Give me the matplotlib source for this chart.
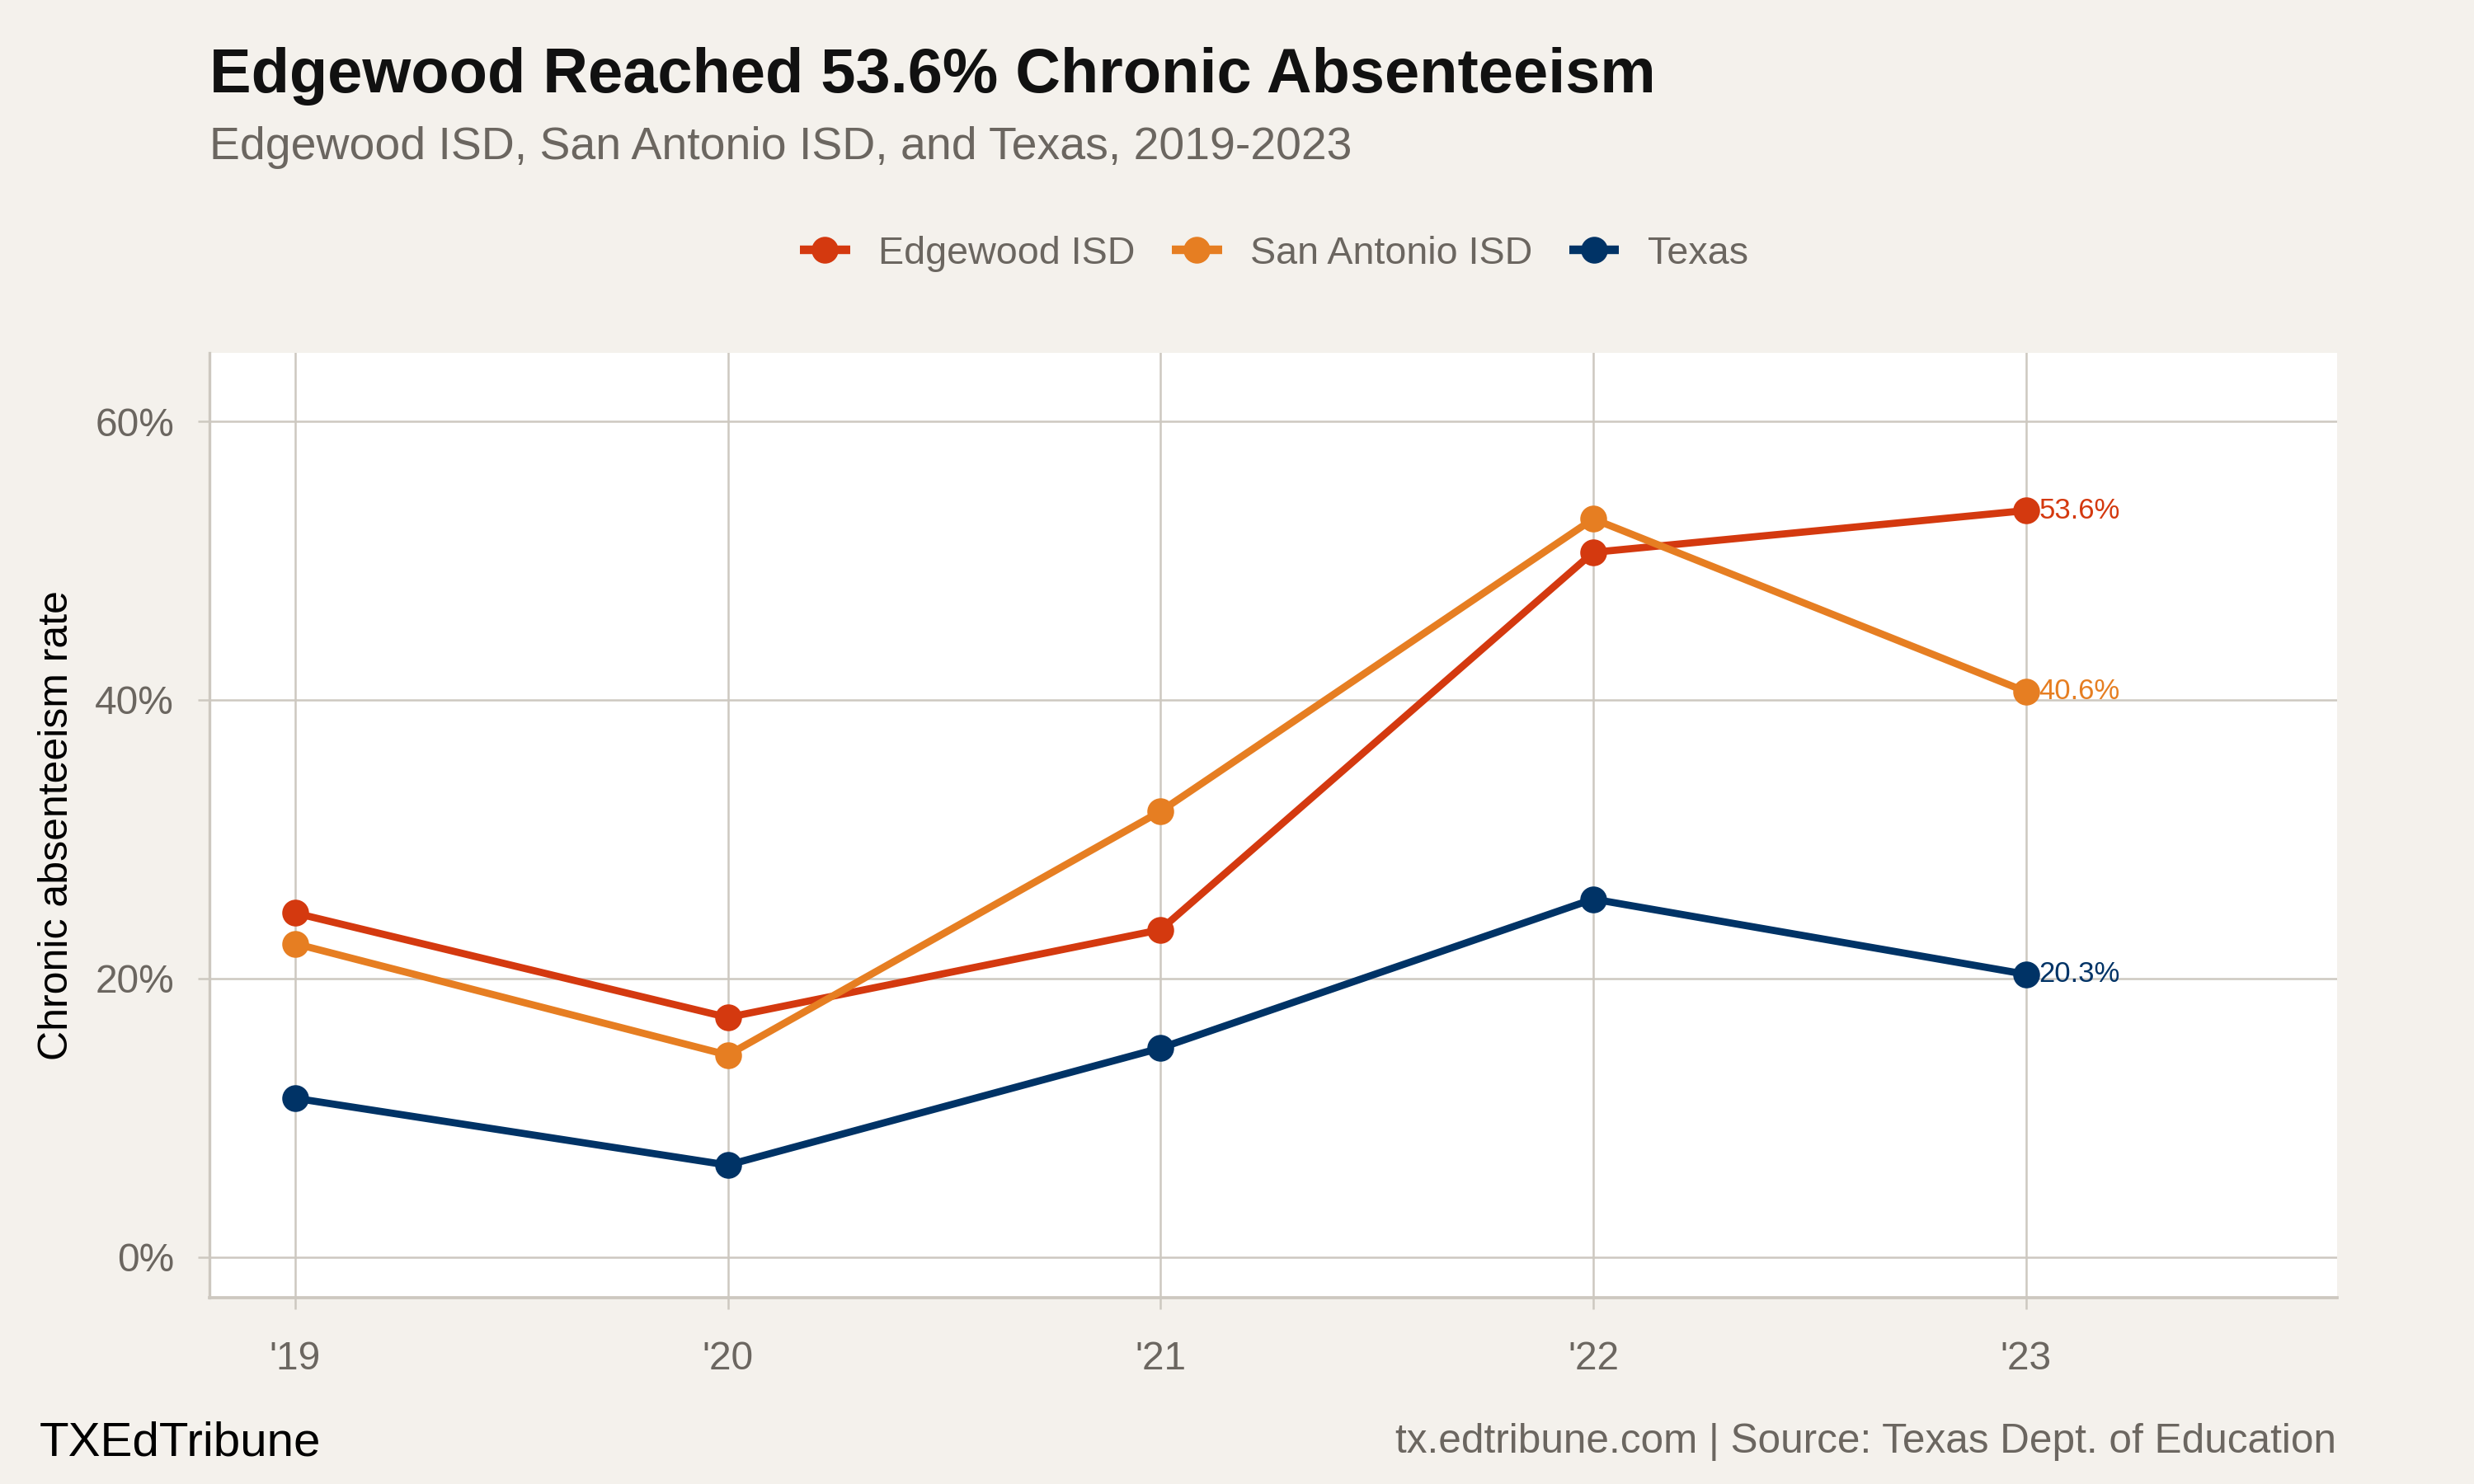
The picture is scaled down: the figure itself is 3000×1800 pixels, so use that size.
import numpy as np
import matplotlib
matplotlib.use("Agg")
import matplotlib.pyplot as plt
from matplotlib.ticker import FuncFormatter

plt.rcParams['font.family'] = ['Liberation Sans', 'DejaVu Sans']

years = [2019, 2020, 2021, 2022, 2023]
year_labels = ["'19", "'20", "'21", "'22", "'23"]
edgewood = [24.7, 17.2, 23.5, 50.6, 53.6]
san_antonio = [22.5, 14.5, 32.0, 53.0, 40.6]
texas = [11.4, 6.6, 15.0, 25.7, 20.3]
series_names = ["Edgewood ISD", "San Antonio ISD", "Texas"]
series_colors = ["#D4390F", "#E67E22", "#003366"]

bg = "#F4F1EC"
grid_col = "#CDC8C0"
gray_txt = "#6B6660"

fig = plt.figure(figsize=(10, 6), dpi=300, facecolor=bg)
ax = fig.add_axes([0.0848, 0.1254, 0.9445 - 0.0848, 0.762 - 0.1254])
ax.set_facecolor("white")

for name, vals, col in zip(series_names, [edgewood, san_antonio, texas], series_colors):
    ax.plot(years, vals, color=col, lw=2.1, marker="o", markersize=6.8,
            label=name, solid_capstyle="butt", zorder=3)
    ax.text(years[-1] + 0.03, vals[-1], f"{vals[-1]:.1f}%", color=col,
            fontsize=8.3, va="center", ha="left", zorder=4)

ax.set_xlim(2018.803, 2023.718)
ax.set_ylim(-2.94, 64.9)
ax.set_xticks(years)
ax.set_xticklabels(year_labels)
ax.set_yticks([0, 20, 40, 60])
ax.yaxis.set_major_formatter(FuncFormatter(lambda v, p: f"{v:.0f}%"))
ax.grid(True, color=grid_col, lw=0.6, zorder=0)
ax.set_axisbelow(True)

for s in ["top", "right"]:
    ax.spines[s].set_visible(False)
ax.spines["left"].set_color(grid_col)
ax.spines["left"].set_linewidth(0.8)
ax.spines["bottom"].set_color(grid_col)
ax.spines["bottom"].set_linewidth(0.9)
ax.tick_params(axis="both", colors=grid_col, length=3.4, width=0.6,
               labelcolor=gray_txt, labelsize=11.5, pad=7)
ax.tick_params(axis="x", pad=9)

ax.set_ylabel("Chronic absenteeism rate", fontsize=12, color="black")
ax.yaxis.set_label_coords(-0.063, 0.5)

fig.text(0.0848, 0.938, "Edgewood Reached 53.6% Chronic Absenteeism",
         fontsize=18.2, fontweight="bold", color="#111111", va="baseline")
fig.text(0.0848, 0.893, "Edgewood ISD, San Antonio ISD, and Texas, 2019-2023",
         fontsize=13.3, color=gray_txt, va="baseline")

handles, labels = ax.get_legend_handles_labels()
leg = fig.legend(handles, labels, loc="center", bbox_to_anchor=(0.515, 0.829),
                 ncol=3, frameon=False, fontsize=11.2, handlelength=1.3,
                 handletextpad=0.74, columnspacing=0.95, labelcolor=gray_txt)
for h in leg.legend_handles:
    h.set_linewidth(2.5)

fig.text(0.016, 0.019, "TXEdTribune", fontsize=14, color="black", va="baseline")
fig.text(0.9445, 0.021, "tx.edtribune.com | Source: Texas Dept. of Education",
         fontsize=11.9, color=gray_txt, ha="right", va="baseline")

fig.savefig("out.png", dpi=300, facecolor=bg)
